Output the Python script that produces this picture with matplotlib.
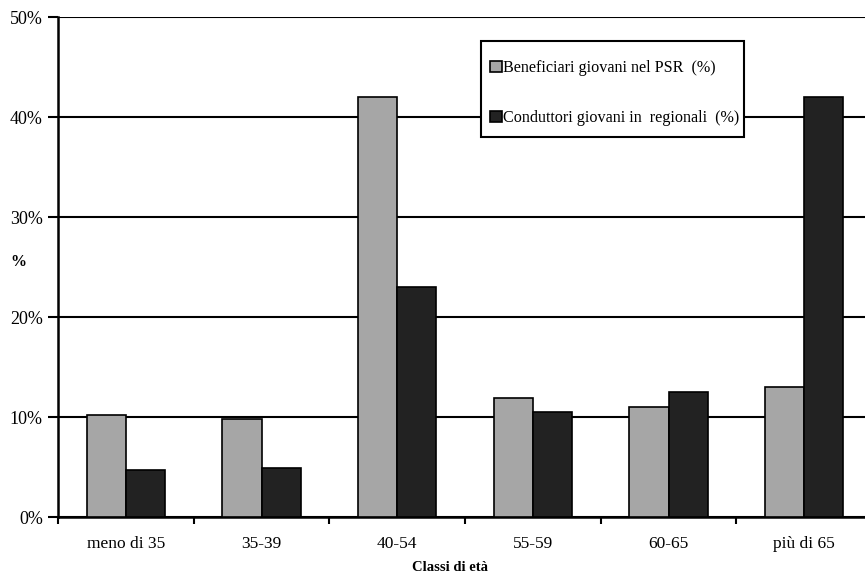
import numpy as np
import matplotlib.pyplot as plt
from matplotlib.patches import Rectangle
from matplotlib.ticker import FuncFormatter, FixedLocator

plt.rcParams['font.family'] = ['Liberation Serif', 'DejaVu Serif']

categories = ["meno di 35", "35-39", "40-54", "55-59", "60-65", "più di 65"]
beneficiari = [10.2, 9.8, 42.0, 11.9, 11.0, 13.0]
conduttori = [4.7, 4.9, 23.0, 10.5, 12.5, 42.0]
labels = ["Beneficiari giovani nel PSR  (%)", "Conduttori giovani in  regionali  (%)"]

fig = plt.figure(figsize=(8.65, 5.73), dpi=100)
ax = fig.add_axes([0.0671, 0.0969, 0.941, 0.8726])

x = np.arange(len(categories))
w = 0.288
ax.bar(x - w / 2, beneficiari, w, color="#A6A6A6", edgecolor="black", linewidth=1.2, zorder=3, label=labels[0])
ax.bar(x + w / 2, conduttori, w, color="#222222", edgecolor="black", linewidth=1.2, zorder=3, label=labels[1])

ax.set_xlim(-0.5, len(categories) - 0.5)
ax.set_ylim(0, 50)
ax.set_yticks(np.arange(0, 51, 10))
ax.yaxis.set_major_formatter(FuncFormatter(lambda v, p: f"{v:.0f}%"))
ax.grid(axis='y', color='black', linewidth=1.5, zorder=0)

ax.set_xticks(x)
ax.set_xticklabels(categories, fontsize=12.5)
ax.xaxis.set_minor_locator(FixedLocator(np.arange(-0.5, len(categories), 1)))
ax.tick_params(axis='x', which='major', length=0, pad=13)
ax.tick_params(axis='x', which='minor', length=5, width=1.5, direction='out')
ax.tick_params(axis='y', length=7, width=1.5, direction='out', labelsize=13, pad=4)

for s in ['top', 'right']:
    ax.spines[s].set_visible(False)
for s in ['left', 'bottom']:
    ax.spines[s].set_linewidth(1.8)

ax.set_xlabel("Classi di età", fontsize=10.5, fontweight='bold')
ax.xaxis.set_label_coords(0.4816, -0.088)
ax.set_ylabel("%", fontsize=11.5, fontweight='bold', rotation=0, va='center')
ax.yaxis.set_label_coords(-0.049, 0.511)

# legend box drawn separately so the padding matches the original
box = Rectangle((0.5197, 0.761), 0.3231, 0.192, transform=ax.transAxes,
                facecolor='white', edgecolor='black', linewidth=1.5, zorder=5)
ax.add_patch(box)
leg = ax.legend(loc='upper left', bbox_to_anchor=(0.531, 0.915), fontsize=11.6,
                frameon=False, handlelength=0.7, handleheight=0.7, handletextpad=0.1,
                labelspacing=2.1, borderpad=0, borderaxespad=0)
leg.set_zorder(6)

fig.savefig("out.png", dpi=100)
